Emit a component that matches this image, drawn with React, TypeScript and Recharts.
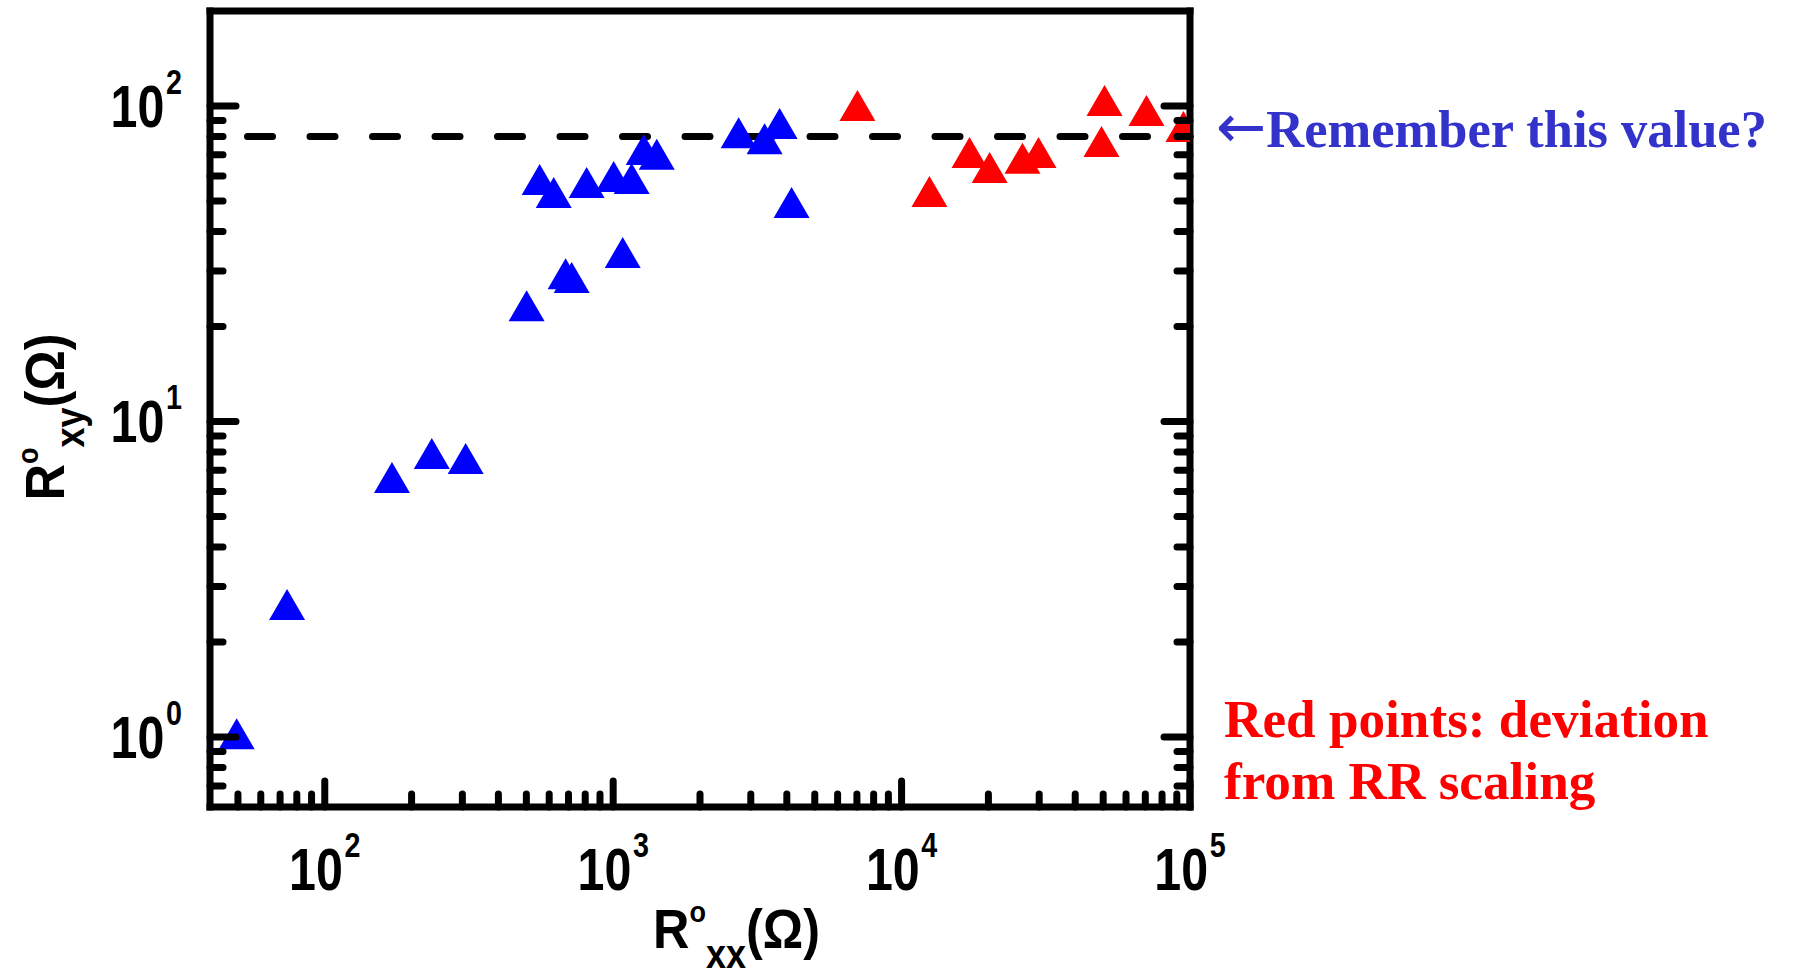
import { ReferenceLine, Scatter, ScatterChart, XAxis, YAxis } from "recharts";

// R°xx (Ω) and R°xy (Ω)
const BLUE_RXX = [49.5, 74, 171, 235, 308, 501, 556, 622, 684, 718, 809, 1004, 1079, 1159, 1276, 1416, 2723, 3350, 3777, 4155];
const BLUE_RXY = [1.02, 2.62, 6.62, 7.89, 7.6, 23.2, 58.3, 53, 29.3, 28.5, 57, 59.6, 34.2, 58.7, 72.5, 70, 82, 78.5, 87.7, 49.3];
const RED_RXX = [7030, 12490, 17200, 20200, 26250, 29840, 49330, 50540, 70650, 94900];
const RED_RXY = [100, 53.4, 71, 63.6, 68, 71, 76.9, 103.7, 96.4, 85.8];
const REMEMBER_VALUE = 80;

const X_DOMAIN = [40, 100000];
const Y_DOMAIN = [0.6, 200];
const X_MAJOR = [100, 1000, 10000, 100000];
const Y_MAJOR = [1, 10, 100];
const X_MINOR = [50, 60, 70, 80, 90, 200, 300, 400, 500, 600, 700, 800, 900, 2000, 3000, 4000, 5000, 6000, 7000, 8000, 9000, 20000, 30000, 40000, 50000, 60000, 70000, 80000, 90000];
const Y_MINOR = [0.7, 0.8, 0.9, 2, 3, 4, 5, 6, 7, 8, 9, 20, 30, 40, 50, 60, 70, 80, 90];

const W = 1795;
const H = 973;
const PLOT = { left: 210, right: 1190, top: 11, bottom: 807 };
const SANS = "'Liberation Sans', Arial, sans-serif";
const SERIF = "'Liberation Serif', 'Times New Roman', serif";
const LW = 7;
const NARROW = 0.82;

const blueData = BLUE_RXX.map((x, i) => ({ x, y: BLUE_RXY[i] }));
const redData = RED_RXX.map((x, i) => ({ x, y: RED_RXY[i] }));
const xTicks = [...X_MAJOR, ...X_MINOR].sort((a, b) => a - b);
const yTicks = [...Y_MAJOR, ...Y_MINOR].sort((a, b) => a - b);

const axisLine = { stroke: "#000", strokeWidth: LW, strokeLinecap: "square" as const };

function triangle(color: string) {
  return (props: any) => {
    const { cx, cy } = props;
    if (cx == null || cy == null) return <g />;
    return (
      <polygon
        points={`${cx},${cy - 16} ${cx + 18},${cy + 15} ${cx - 18},${cy + 15}`}
        fill={color}
      />
    );
  };
}

const exp = (v: number) => Math.round(Math.log10(v));

function Power({ x, y, value, anchor }: { x: number; y: number; value: number; anchor: "middle" | "end" }) {
  return (
    <g transform={`translate(${x},${y}) scale(${NARROW},1)`}>
      <text x={0} y={0} textAnchor={anchor} fontFamily={SANS} fontWeight="bold" fontSize={59} fill="#000">
        10
        <tspan dx={2} dy={-33} fontSize={35}>
          {exp(value)}
        </tspan>
      </text>
    </g>
  );
}

function XTick(props: any) {
  const { x, y, payload, side } = props;
  const major = X_MAJOR.includes(payload.value);
  const len = major ? 26 : 13;
  const dir = side === "bottom" ? -1 : 1;
  return (
    <g>
      <line x1={x} y1={y} x2={x} y2={y + dir * len} stroke="#000" strokeWidth={LW} strokeLinecap="round" />
      {side === "bottom" && major && <Power x={x} y={y + 83} value={payload.value} anchor="middle" />}
    </g>
  );
}

function YTick(props: any) {
  const { x, y, payload, side } = props;
  const major = Y_MAJOR.includes(payload.value);
  const len = major ? 26 : 13;
  const dir = side === "left" ? 1 : -1;
  return (
    <g>
      <line x1={x} y1={y} x2={x + dir * len} y2={y} stroke="#000" strokeWidth={LW} strokeLinecap="round" />
      {side === "left" && major && <Power x={x - 28} y={y + 21} value={payload.value} anchor="end" />}
    </g>
  );
}

const sup = { fontSize: 30, position: "relative" as const, top: -26 };
const sub = { fontSize: 40, position: "relative" as const, top: 20 };
const titleStyle = {
  fontFamily: SANS,
  fontWeight: "bold" as const,
  fontSize: 56,
  lineHeight: 1,
  whiteSpace: "nowrap" as const,
};

export default function App() {
  return (
    <div style={{ position: "relative", width: W, height: H, background: "#fff" }}>
      <style>{`body { margin: 0; }`}</style>
      <ScatterChart
        width={W}
        height={H}
        margin={{ top: PLOT.top - 1, left: PLOT.left - 1, right: W - PLOT.right - 1, bottom: H - PLOT.bottom - 1 }}
      >
        <XAxis
          dataKey="x"
          type="number"
          scale="log"
          domain={X_DOMAIN}
          allowDataOverflow
          ticks={xTicks}
          interval={0}
          height={1}
          tickSize={0}
          tickMargin={0}
          tickLine={false}
          axisLine={axisLine}
          tick={(p: any) => <XTick {...p} side="bottom" />}
        />
        <XAxis
          xAxisId="top"
          orientation="top"
          type="number"
          scale="log"
          domain={X_DOMAIN}
          allowDataOverflow
          ticks={xTicks}
          interval={0}
          height={1}
          tickSize={0}
          tickMargin={0}
          tickLine={false}
          axisLine={axisLine}
          tick={(p: any) => <XTick {...p} side="top" />}
        />
        <YAxis
          dataKey="y"
          type="number"
          scale="log"
          domain={Y_DOMAIN}
          allowDataOverflow
          ticks={yTicks}
          interval={0}
          width={1}
          tickSize={0}
          tickMargin={0}
          tickLine={false}
          axisLine={axisLine}
          tick={(p: any) => <YTick {...p} side="left" />}
        />
        <YAxis
          yAxisId="right"
          orientation="right"
          type="number"
          scale="log"
          domain={Y_DOMAIN}
          allowDataOverflow
          ticks={yTicks}
          interval={0}
          width={1}
          tickSize={0}
          tickMargin={0}
          tickLine={false}
          axisLine={axisLine}
          tick={(p: any) => <YTick {...p} side="right" />}
        />
        <Scatter data={blueData} fill="#0000ff" shape={triangle("#0000ff")} isAnimationActive={false} />
        <Scatter data={redData} fill="#ff0000" shape={triangle("#ff0000")} isAnimationActive={false} />
        <ReferenceLine
          y={REMEMBER_VALUE}
          stroke="#000"
          strokeWidth={LW}
          strokeDasharray="25 37.5"
          strokeDashoffset={25}
          strokeLinecap="round"
        />
      </ScatterChart>

      <div style={{ position: "absolute", left: 653, top: 901, transform: "scaleX(0.9)", transformOrigin: "0 0" }}>
        <div style={titleStyle}>
          R<span style={sup}>o</span>
          <span style={sub}>xx</span>(Ω)
        </div>
      </div>

      <div style={{ position: "absolute", left: 45, top: 417, width: 0, height: 0, transform: "rotate(-90deg) scaleX(0.9)" }}>
        <div style={{ ...titleStyle, position: "absolute", transform: "translate(-50%, -50%)" }}>
          R<span style={sup}>o</span>
          <span style={sub}>xy</span>(Ω)
        </div>
      </div>

      <div
        style={{
          position: "absolute",
          left: 1216,
          top: 98,
          fontFamily: SERIF,
          fontWeight: "bold",
          fontSize: 52.5,
          lineHeight: "56px",
          color: "#3333cc",
          whiteSpace: "nowrap",
        }}
      >
        <span style={{ fontFamily: "'DejaVu Sans', sans-serif", fontWeight: "normal", fontSize: 60 }}>←</span>
        Remember this value?
      </div>

      <div
        style={{
          position: "absolute",
          left: 1224,
          top: 689,
          fontFamily: SERIF,
          fontWeight: "bold",
          fontSize: 53.2,
          lineHeight: "62px",
          color: "#ff0000",
          whiteSpace: "nowrap",
        }}
      >
        Red points: deviation
        <br />
        from RR scaling
      </div>
    </div>
  );
}
